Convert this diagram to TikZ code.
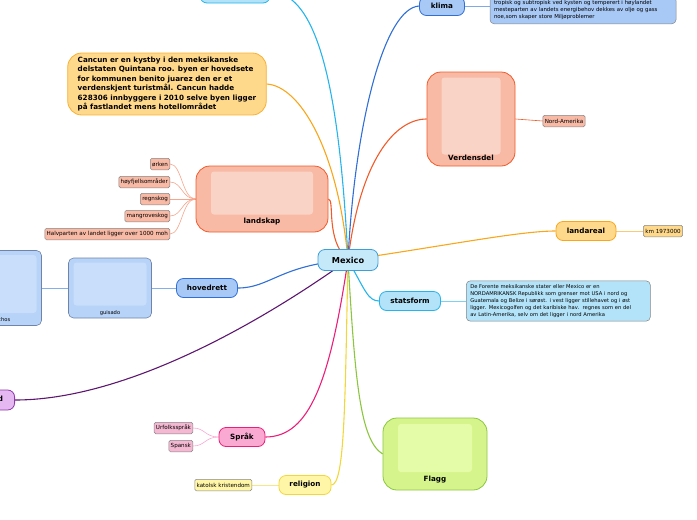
\documentclass[tikz,border=0pt]{standalone}
\usepackage{fontspec}
\setmainfont{DejaVu Sans}
\usetikzlibrary{backgrounds}

\definecolor{mexfill}{HTML}{C6E9FA}
\definecolor{mexdraw}{HTML}{3C9FD8}
\definecolor{bluefill}{HTML}{A8C9F6}
\definecolor{bluedraw}{HTML}{2F6FD6}
\definecolor{cyanline}{HTML}{25B4EC}
\definecolor{cyanfill}{HTML}{B3E3F8}
\definecolor{orangeline}{HTML}{F9A61A}
\definecolor{orangefill}{HTML}{FFD98B}
\definecolor{orangedraw}{HTML}{F8B133}
\definecolor{redline}{HTML}{F15A29}
\definecolor{salmonfill}{HTML}{F8B9A5}
\definecolor{salmoninner}{HTML}{FAD3C7}
\definecolor{purpline}{HTML}{5E1770}
\definecolor{purpfill}{HTML}{E6B8F2}
\definecolor{purpdraw}{HTML}{8E3AA8}
\definecolor{pinkline}{HTML}{EC1E79}
\definecolor{pinkfill}{HTML}{F9A9D2}
\definecolor{pinkleaf}{HTML}{F4B8D2}
\definecolor{yellowline}{HTML}{F2D73C}
\definecolor{yellowfill}{HTML}{FFF6A8}
\definecolor{greenline}{HTML}{8CC63F}
\definecolor{greenfill}{HTML}{D5F58C}
\definecolor{greeninner}{HTML}{E4FBA8}
\definecolor{guifill}{HTML}{B7D3F8}
\definecolor{guiinner}{HTML}{C8DEFB}
\definecolor{guidraw}{HTML}{6F84A8}
\definecolor{leafdraw}{HTML}{858585}

\tikzset{
  topic/.style={draw, rounded corners=7pt, line width=0.8pt, inner sep=0pt,
    minimum height=19pt, font=\bfseries\fontsize{7.2}{8}\selectfont},
  picbox/.style={draw, rounded corners=14pt, line width=0.8pt, inner sep=0pt},
  picinner/.style={rounded corners=3pt, inner sep=0pt},
  leaf/.style={draw=leafdraw, rounded corners=1.5pt, line width=0.5pt, inner sep=1.8pt,
    minimum height=11.5pt, font=\fontsize{5.6}{6.5}\selectfont},
  notebox/.style={draw=leafdraw, rounded corners=4pt, line width=0.5pt, inner sep=4pt,
    align=left, font=\fontsize{5.4}{7}\selectfont},
  branch/.style={line width=1.1pt},
  twig/.style={line width=0.6pt}
}

\begin{document}
\begin{tikzpicture}[x=1pt,y=-1pt,line cap=round,line join=round]
  \useasboundingbox (0,0) rectangle (697,520);

  % centre
  \node[topic, fill=mexfill, draw=mexdraw, minimum width=60pt, minimum height=21pt,
    font=\bfseries\fontsize{8.2}{9}\selectfont] (mexico) at (348,260) {Mexico};

  % top
  \node[topic, fill=cyanfill, draw=cyanline, minimum width=70pt, minimum height=22pt] (topp) at (235,-8) {};
  \node[topic, fill=bluefill, draw=bluedraw, minimum width=45pt] (klima) at (442,6) {klima};
  \node[notebox, fill=bluefill, anchor=south, text width=178pt] (klimanote) at (583,24)
    {tropisk og subtropisk ved kysten og temperert i høylandet\\
     mesteparten av landets energibehov dekkes av olje og gass\\
     noe,som skaper store Miljøproblemer};

  \node[notebox, fill=orangefill, draw=orangedraw, line width=0.8pt, rounded corners=14pt,
    inner xsep=10pt, inner ysep=4pt, font=\bfseries\fontsize{7.2}{9.4}\selectfont] (cancun) at (167,84)
    {Cancun er en kystby i den meksikanske\\
     delstaten Quintana roo. byen er hovedsete\\
     for kommunen benito juarez den er et\\
     verdenskjent turistmål. Cancun hadde\\
     628306 innbyggere i 2010 selve byen ligger\\
     på fastlandet mens hotellområdet};

  % Verdensdel
  \node[picbox, fill=salmonfill, draw=redline, minimum width=88pt, minimum height=94pt] (verdensdel) at (471,119) {};
  \node[picinner, fill=salmoninner, minimum width=59pt, minimum height=77pt] (verdensbilde) at (471,116) {};
  \node[font=\bfseries\fontsize{7.2}{8}\selectfont] (verdenstekst) at (471,158) {Verdensdel};
  \node[leaf, fill=salmonfill] (nordam) at (564,121) {Nord-Amerika};

  % landskap
  \node[picbox, fill=salmonfill, draw=redline, minimum width=132pt, minimum height=66pt] (landskap) at (262,199) {};
  \node[picinner, fill=salmoninner, minimum width=102pt, minimum height=43pt] (landbilde) at (262,193) {};
  \node[font=\bfseries\fontsize{7.2}{8}\selectfont] (landtekst) at (262,222) {landskap};
  \node[leaf, fill=salmonfill, anchor=east] (orken) at (170,164) {ørken};
  \node[leaf, fill=salmonfill, anchor=east] (hoyfjell) at (170,182) {høyfjellsområder};
  \node[leaf, fill=salmonfill, anchor=east] (regnskog) at (170,199) {regnskog};
  \node[leaf, fill=salmonfill, anchor=east] (mangrove) at (170,216) {mangroveskog};
  \node[leaf, fill=salmonfill, anchor=east] (halvparten) at (170,234) {Halvparten av landet ligger over 1000 moh};

  % right
  \node[topic, fill=orangefill, draw=orangeline, minimum width=60pt] (landareal) at (586,231) {landareal};
  \node[leaf, fill=orangefill] (km) at (663,231) {km 1973000};
  \node[topic, fill=cyanfill, draw=cyanline, minimum width=61pt] (statsform) at (410,301) {statsform};
  \node[notebox, fill=cyanfill, anchor=west, text width=176pt, font=\fontsize{5.2}{6.8}\selectfont] (statsnote) at (466,301)
    {De Forente meksikanske stater eller Mexico er en\\
     NORDAMRIKANSK Republikk som grenser mot USA i nord og\\
     Guatemala og Belize i sørøst. i vest ligger stillehavet og i øst\\
     ligger. Mexicogolfen og det karibiske hav.\ \ regnes som en del\\
     av Latin-Amerika, selv om det ligger i nord Amerika};

  % hovedrett
  \node[topic, fill=bluefill, draw=bluedraw, minimum width=61pt] (hovedrett) at (207,288) {hovedrett};
  \node[picbox, fill=guifill, draw=guidraw, rounded corners=5pt, line width=0.6pt,
    minimum width=83pt, minimum height=60pt] (guisado) at (110,288) {};
  \node[picinner, fill=guiinner, minimum width=73pt, minimum height=43pt] (guibilde) at (110,284) {};
  \node[font=\fontsize{5.2}{6}\selectfont] (guitekst) at (110,313) {guisado};
  \node[picbox, fill=guifill, draw=guidraw, rounded corners=5pt, line width=0.6pt,
    minimum width=83pt, minimum height=75pt] (nachos) at (0,288) {};
  \node[picinner, fill=guiinner, minimum width=73pt, minimum height=58pt] (nachosbilde) at (0,284) {};
  \node[font=\fontsize{5.2}{6}\selectfont] (nachostekst) at (1,320) {nachos};

  % bottom
  \node[topic, fill=purpfill, draw=purpdraw, minimum width=50pt, minimum height=20pt, anchor=east] (hoytid) at (15,400) {Høytid};
  \node[topic, fill=pinkfill, draw=pinkline, minimum width=46pt] (sprak) at (242,437) {Språk};
  \node[leaf, fill=pinkleaf, anchor=east] (urfolk) at (193,428) {Urfolksspråk};
  \node[leaf, fill=pinkleaf, anchor=east] (spansk) at (193,446) {Spansk};
  \node[topic, fill=yellowfill, draw=yellowline, minimum width=52pt] (religion) at (305,485) {religion};
  \node[leaf, fill=yellowfill, anchor=east] (katolsk) at (252,485) {katolsk kristendom};
  \node[picbox, fill=greenfill, draw=greenline, minimum width=104pt, minimum height=72pt] (flagg) at (435,454) {};
  \node[picinner, fill=greeninner, minimum width=74pt, minimum height=48pt] (flaggbilde) at (435,448) {};
  \node[font=\bfseries\fontsize{7.2}{8}\selectfont] (flaggtekst) at (435,480) {Flagg};

  \begin{pgfonlayer}{background}
    \draw[branch, cyanline] (mexico.center) .. controls (340,100) and (320,-8) .. (topp.east);
    \draw[branch, bluedraw] (mexico.center) .. controls (355,120) and (385,8) .. (klima.west);
    \draw[twig, bluedraw!60] (klima.east) -- (klimanote.west |- klima.east);
    \draw[branch, orangeline] (mexico.center) .. controls (338,150) and (300,86) .. (cancun.east);
    \draw[branch, redline] (mexico.center) .. controls (360,160) and (395,119) .. (verdensdel.west);
    \draw[twig, redline] (verdensdel.east) -- (nordam.west);
    \draw[branch, redline] (mexico.center) .. controls (325,240) and (335,199) .. (landskap.east);
    \foreach \leafname in {orken,hoyfjell,regnskog,mangrove,halvparten}
      \draw[twig, salmonfill!80!redline] (landskap.west) .. controls (182,199) and (182,199 |- \leafname.east) .. (\leafname.east);
    \draw[branch, orangeline] (mexico.center) .. controls (450,245) and (520,231) .. (landareal.west);
    \draw[twig, orangeline!60] (landareal.east) -- (km.west);
    \draw[branch, cyanline] (mexico.center) .. controls (365,290) and (368,301) .. (statsform.west);
    \draw[twig, cyanline!60] (statsform.east) -- (statsnote.west);
    \draw[branch, bluedraw] (mexico.center) .. controls (280,265) and (270,288) .. (hovedrett.east);
    \draw[twig, bluefill!70!bluedraw] (hovedrett.west) -- (guisado.east);
    \draw[twig, bluefill!70!bluedraw] (guisado.west) -- (nachos.east);
    \draw[branch, purpline] (mexico.center) .. controls (250,330) and (120,400) .. (hoytid.east);
    \draw[branch, pinkline] (mexico.center) .. controls (330,380) and (310,437) .. (sprak.east);
    \foreach \leafname in {urfolk,spansk}
      \draw[twig, pinkfill] (sprak.west) .. controls (205,437) and (205,437 |- \leafname.east) .. (\leafname.east);
    \draw[branch, yellowline] (mexico.center) .. controls (345,400) and (345,485) .. (religion.east);
    \draw[twig, yellowline!60] (religion.west) -- (katolsk.east);
    \draw[branch, greenline] (mexico.center) .. controls (355,380) and (360,440) .. (flagg.west);
  \end{pgfonlayer}
\end{tikzpicture}
\end{document}
